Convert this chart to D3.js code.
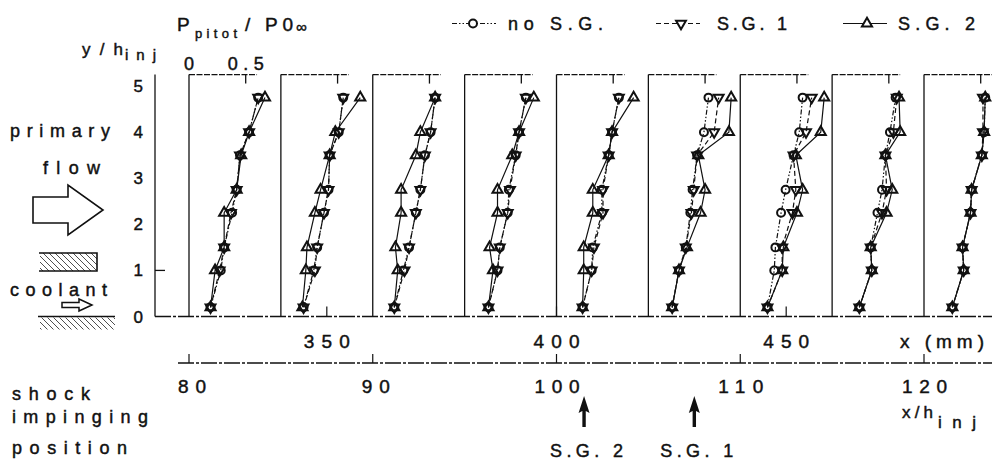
<!DOCTYPE html>
<html>
<head>
<meta charset="utf-8">
<script src="https://cdn.jsdelivr.net/npm/d3@7"></script>
<style>
  html, body { margin: 0; padding: 0; background: #fff; }
  svg { display: block; font-family: "Liberation Sans", Arial, Helvetica, sans-serif; }
  text { fill: #111; stroke: #111; stroke-width: 0.45px; }
</style>
</head>
<body>
<svg id="chart" width="992" height="465"></svg>
<script>
// Measurement stations (x/h_inj) – one Pitot profile per station
const stations = [80, 85, 90, 95, 100, 105, 110, 115, 120];
// Probe heights y/h_inj
const yLevels = [0.2, 1.0, 1.5, 2.25, 2.75, 3.5, 4.0, 4.75];

// P_pitot / P0_inf profiles, one row per station (bottom to top)
const noSG = [
  [0.19, 0.28, 0.31, 0.38, 0.42, 0.45, 0.53, 0.61],
  [0.20, 0.29, 0.32, 0.38, 0.42, 0.43, 0.51, 0.55],
  [0.19, 0.27, 0.32, 0.38, 0.42, 0.46, 0.51, 0.55],
  [0.21, 0.29, 0.31, 0.38, 0.39, 0.45, 0.48, 0.54],
  [0.23, 0.31, 0.32, 0.40, 0.40, 0.46, 0.49, 0.55],
  [0.21, 0.27, 0.33, 0.37, 0.39, 0.43, 0.49, 0.53],
  [0.24, 0.30, 0.31, 0.36, 0.40, 0.47, 0.52, 0.55],
  [0.24, 0.35, 0.34, 0.40, 0.44, 0.47, 0.51, 0.56],
  [0.25, 0.35, 0.34, 0.41, 0.42, 0.51, 0.53, 0.54]
];
const sg1 = [
  [0.19, 0.27, 0.31, 0.37, 0.42, 0.45, 0.53, 0.61],
  [0.20, 0.30, 0.32, 0.38, 0.42, 0.43, 0.51, 0.55],
  [0.19, 0.28, 0.32, 0.38, 0.42, 0.46, 0.51, 0.55],
  [0.21, 0.29, 0.31, 0.38, 0.40, 0.45, 0.48, 0.54],
  [0.23, 0.31, 0.33, 0.41, 0.41, 0.46, 0.49, 0.55],
  [0.21, 0.27, 0.33, 0.38, 0.40, 0.43, 0.58, 0.62],
  [0.24, 0.37, 0.37, 0.46, 0.49, 0.47, 0.58, 0.63],
  [0.24, 0.35, 0.34, 0.44, 0.48, 0.47, 0.54, 0.57],
  [0.25, 0.35, 0.34, 0.41, 0.42, 0.51, 0.52, 0.52]
];
const sg2 = [
  [0.19, 0.23, 0.31, 0.31, 0.42, 0.46, 0.53, 0.67],
  [0.19, 0.22, 0.23, 0.30, 0.35, 0.43, 0.48, 0.70],
  [0.19, 0.22, 0.20, 0.25, 0.25, 0.38, 0.42, 0.55],
  [0.21, 0.25, 0.22, 0.29, 0.29, 0.42, 0.48, 0.61],
  [0.23, 0.24, 0.24, 0.32, 0.32, 0.46, 0.49, 0.68],
  [0.21, 0.27, 0.34, 0.46, 0.50, 0.44, 0.71, 0.73],
  [0.24, 0.37, 0.38, 0.50, 0.55, 0.49, 0.71, 0.74],
  [0.24, 0.35, 0.34, 0.48, 0.53, 0.47, 0.60, 0.59],
  [0.25, 0.35, 0.34, 0.41, 0.42, 0.51, 0.53, 0.54]
];

const seriesNames = ["no S.G.", "S.G. 1", "S.G. 2"];
const yTicks = [0, 1, 2, 3, 4, 5];
const pTicks = [0, 0.5];
const xhTicks = [80, 90, 100, 110, 120];
const mmTicks = [350, 400, 450];
const hInj = 4; // mm
const sgLabels = ["S.G. 2", "S.G. 1"];
const sgImpinge = [101.5, 107.5];

const svg = d3.select("#chart");

// scales
const xh = d3.scaleLinear().domain([80, 120]).range([189, 924]);
const y = d3.scaleLinear().domain([0, 5]).range([316.5, 86.1]);
const p = d3.scaleLinear().domain([0, 1]).range([0, 113.4]);
const xmm = mm => xh(mm / hInj);

const series = [
  { name: seriesNames[0], data: noSG, dash: "5,2,1.5,2,1.5,2", sym: d3.symbolCircle, size: 50, rot: 0 },
  { name: seriesNames[1], data: sg1, dash: "5,3", sym: d3.symbolTriangle, size: 42, rot: 180 },
  { name: seriesNames[2], data: sg2, dash: null, sym: d3.symbolTriangle, size: 44, rot: 0 }
];

// hatch pattern for the walls
const defs = svg.append("defs");
defs.append("pattern")
  .attr("id", "hatch").attr("patternUnits", "userSpaceOnUse")
  .attr("width", 6).attr("height", 6)
  .append("path")
  .attr("d", "M-1,-1 L7,7 M-1,5 L1,7 M5,-1 L7,1")
  .attr("stroke", "#222").attr("stroke-width", 0.8);

const frameTop = y(5.25);

// ---- left y-axis
const axis = svg.append("g").attr("stroke", "#111").attr("fill", "none");
axis.append("line").attr("x1", 155).attr("x2", 155).attr("y1", frameTop).attr("y2", y(0)).attr("stroke-width", 1.3);
axis.append("line").attr("x1", 155).attr("x2", 165).attr("y1", y(1)).attr("y2", y(1)).attr("stroke-width", 1.3);

svg.append("g").selectAll("text").data(yTicks).join("text")
  .attr("x", 143).attr("y", d => y(d) + 6)
  .attr("text-anchor", "end").attr("font-size", 17)
  .text(d => d);

// ---- bottom baseline of the panels (dash-dot) with mm ticks
axis.append("line").attr("x1", 155).attr("x2", 992).attr("y1", y(0)).attr("y2", y(0))
  .attr("stroke-width", 1.3).attr("stroke-dasharray", "16,2,3,2");
axis.selectAll(".mmtick").data(mmTicks).join("line")
  .attr("x1", d => xmm(d)).attr("x2", d => xmm(d))
  .attr("y1", y(0)).attr("y2", y(0) - 10).attr("stroke-width", 1.2);

// ---- x/h_inj axis
const xhAxisY = 363;
axis.append("line").attr("x1", 178).attr("x2", 992).attr("y1", xhAxisY).attr("y2", xhAxisY)
  .attr("stroke-width", 1.3).attr("stroke-dasharray", "16,2,3,2");
axis.selectAll(".xhtick").data(xhTicks).join("line")
  .attr("x1", d => xh(d)).attr("x2", d => xh(d))
  .attr("y1", xhAxisY).attr("y2", xhAxisY - 9).attr("stroke-width", 1.2);

const numW = d => String(d).length === 2 ? 28 : 45;
svg.append("g").selectAll("text").data(mmTicks).join("text")
  .attr("x", d => xmm(d) - 23).attr("y", 348)
  .attr("font-size", 19).attr("textLength", 46).attr("lengthAdjust", "spacing")
  .text(d => d);
svg.append("text").attr("x", 900).attr("y", 348).attr("font-size", 19)
  .attr("textLength", 84).attr("lengthAdjust", "spacing").text("x (mm)");

svg.append("g").selectAll("text").data(xhTicks).join("text")
  .attr("x", d => xh(d) - (String(d).length === 2 ? 11 : 22)).attr("y", 393)
  .attr("font-size", 19).attr("textLength", numW).attr("lengthAdjust", "spacing")
  .text(d => d);

// x/h_inj label
svg.append("text").attr("x", 902).attr("y", 418).attr("font-size", 17)
  .attr("textLength", 31).attr("lengthAdjust", "spacing").text("x/h");
svg.append("text").attr("x", 938).attr("y", 428).attr("font-size", 17)
  .attr("textLength", 38).attr("lengthAdjust", "spacing").text("inj");

// ---- shock impingement arrows
const sgG = svg.append("g");
sgImpinge.forEach((v, i) => {
  const cx = xh(v);
  sgG.append("path")
    .attr("d", `M${cx},396 L${cx - 5.5},413 L${cx - 1.7},411 L${cx - 1.7},427 L${cx + 1.7},427 L${cx + 1.7},411 L${cx + 5.5},413 Z`)
    .attr("fill", "#111");
  sgG.append("text").attr("x", cx - 34).attr("y", 457).attr("font-size", 18)
    .attr("textLength", 73).attr("lengthAdjust", "spacing").text(sgLabels[i]);
});

// ---- panels (one per station)
const panels = svg.append("g").selectAll("g").data(stations).join("g")
  .attr("transform", d => `translate(${xh(d)},0)`);

panels.append("line").attr("x1", 0).attr("x2", 0).attr("y1", frameTop).attr("y2", y(0))
  .attr("stroke", "#111").attr("stroke-width", 1.3);
panels.append("line").attr("x1", 0).attr("x2", p(0.6)).attr("y1", frameTop).attr("y2", frameTop)
  .attr("stroke", "#111").attr("stroke-width", 1.2).attr("stroke-dasharray", "6,1.5");
panels.append("line").attr("x1", p(0.5)).attr("x2", p(0.5)).attr("y1", frameTop).attr("y2", frameTop + 9)
  .attr("stroke", "#111").attr("stroke-width", 1.3);

const line = d3.line().x(d => p(d.v)).y(d => y(d.y));

series.forEach(s => {
  panels.append("path")
    .attr("d", (d, i) => line(s.data[i].map((v, k) => ({ v, y: yLevels[k] }))))
    .attr("fill", "none").attr("stroke", "#111").attr("stroke-width", 1.2)
    .attr("stroke-dasharray", s.dash);
});
series.forEach(s => {
  const sym = d3.symbol().type(s.sym).size(s.size)();
  panels.each(function (d, i) {
    d3.select(this).selectAll(null).data(s.data[i]).join("path")
      .attr("d", sym)
      .attr("transform", (v, k) => `translate(${p(v)},${y(yLevels[k])}) rotate(${s.rot})`)
      .attr("fill", "none").attr("stroke", "#111").attr("stroke-width", 2);
  });
});

// ---- top labels
const t = svg.append("g");
t.append("text").attr("x", 177).attr("y", 31).attr("font-size", 19).text("P");
t.append("text").attr("x", 195).attr("y", 38).attr("font-size", 13)
  .attr("textLength", 42).attr("lengthAdjust", "spacing").text("pitot");
t.append("text").attr("x", 245).attr("y", 31).attr("font-size", 19)
  .attr("textLength", 48).attr("lengthAdjust", "spacing").text("/ P0");
t.append("text").attr("x", 296).attr("y", 32).attr("font-size", 15).text("∞");

t.append("text").attr("x", 82).attr("y", 55).attr("font-size", 17)
  .attr("textLength", 41).attr("lengthAdjust", "spacing").text("y/h");
t.append("text").attr("x", 125).attr("y", 60).attr("font-size", 15)
  .attr("textLength", 31).attr("lengthAdjust", "spacing").text("inj");

t.selectAll(".pt").data(pTicks).join("text")
  .attr("x", d => xh(stations[0]) + p(d)).attr("y", 70)
  .attr("text-anchor", "middle").attr("font-size", 18)
  .attr("textLength", d => d === 0 ? null : 36).attr("lengthAdjust", "spacing")
  .text(d => d === 0 ? "0" : "0.5");

// ---- legend
const legX = [452, 656, 843];
const legMark = [473, 681, 867];
const legText = [508, 717, 898];
const legTextW = [95, 70, 77];
const leg = svg.append("g");
series.forEach((s, i) => {
  leg.append("line").attr("x1", legX[i]).attr("x2", legX[i] + 44).attr("y1", 23.5).attr("y2", 23.5)
    .attr("stroke", "#111").attr("stroke-width", 1.2).attr("stroke-dasharray", s.dash);
  leg.append("path").attr("d", d3.symbol().type(s.sym).size(s.size)())
    .attr("transform", `translate(${legMark[i]},23.5) rotate(${s.rot})`)
    .attr("fill", "#fff").attr("stroke", "#111").attr("stroke-width", 2);
  leg.append("text").attr("x", legText[i]).attr("y", 30).attr("font-size", 18)
    .attr("textLength", legTextW[i]).attr("lengthAdjust", "spacing").text(s.name);
});

// ---- left-hand sketch: primary flow / coolant slot
const sk = svg.append("g").attr("stroke", "#111").attr("fill", "none");
const lbl = (txt, x, yy, w) => svg.append("text").attr("x", x).attr("y", yy).attr("font-size", 18)
  .attr("textLength", w).attr("lengthAdjust", "spacing").text(txt);
lbl("primary", 10, 137, 100);
lbl("flow", 43, 174, 57);
lbl("coolant", 10, 296, 97);
lbl("shock", 12, 400, 78);
lbl("impinging", 12, 423, 136);
lbl("position", 12, 454, 115);

// big open arrow
sk.append("path").attr("d", "M33,197 L68,197 L68,185 L103,210 L68,235 L68,223 L33,223 Z")
  .attr("stroke-width", 1.6);
// injector lip (hatched block)
sk.append("rect").attr("x", 40).attr("y", 253).attr("width", 57).attr("height", 18)
  .attr("fill", "url(#hatch)").attr("stroke", "none");
sk.append("path").attr("d", "M39,253 L97,253 L97,271 L39,271").attr("stroke-width", 1.6);
// coolant arrow
sk.append("path").attr("d", "M62,302.5 L79,302.5 L79,299 L92,305 L79,311 L79,307.5 L62,307.5 Z")
  .attr("stroke-width", 1.5);
// lower wall
sk.append("rect").attr("x", 40).attr("y", 317.5).attr("width", 75).attr("height", 12)
  .attr("fill", "url(#hatch)").attr("stroke", "none");
sk.append("line").attr("x1", 38).attr("x2", 115).attr("y1", y(0)).attr("y2", y(0)).attr("stroke-width", 1.6);
</script>
</body>
</html>
